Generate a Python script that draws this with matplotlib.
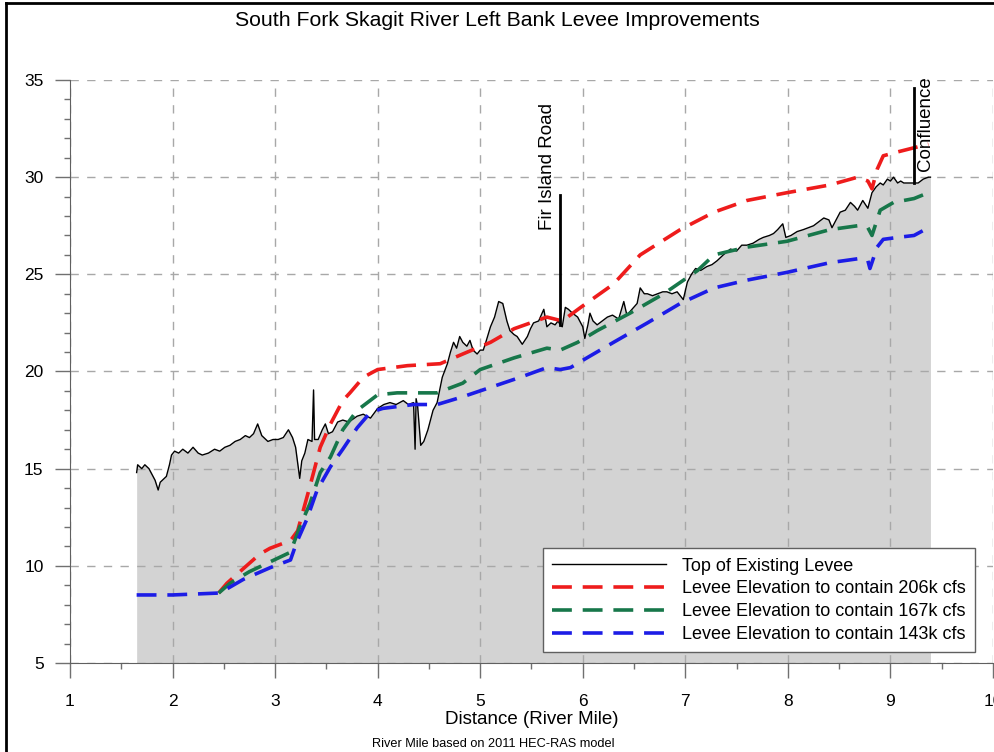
import matplotlib

matplotlib.use("Agg")

import matplotlib.pyplot as plt
from matplotlib.lines import Line2D
from matplotlib.ticker import MultipleLocator

plt.rcParams["font.family"] = ["Liberation Sans", "DejaVu Sans"]

# top of existing levee (river mile, elevation)
levee_x = [1.65, 1.66, 1.70, 1.73, 1.77, 1.80, 1.83, 1.86, 1.88, 1.90, 1.94, 1.97, 1.99,
           2.02, 2.06, 2.10, 2.15, 2.20, 2.25, 2.29, 2.35, 2.41, 2.46, 2.51, 2.56, 2.61,
           2.66, 2.71, 2.75, 2.79, 2.83, 2.87, 2.93, 2.98, 3.03, 3.08, 3.13, 3.17, 3.20,
           3.22, 3.24, 3.26, 3.29, 3.32, 3.36, 3.375, 3.385, 3.42, 3.46, 3.49, 3.52, 3.56,
           3.61, 3.66, 3.72, 3.80, 3.86, 3.93, 4.00, 4.06, 4.12, 4.18, 4.25, 4.30, 4.35,
           4.365, 4.375, 4.39, 4.42, 4.45, 4.49, 4.54, 4.58, 4.63, 4.68, 4.71, 4.74, 4.77,
           4.80, 4.83, 4.87, 4.90, 4.93, 4.97, 5.00, 5.03, 5.06, 5.10, 5.14, 5.18, 5.22,
           5.26, 5.29, 5.33, 5.36, 5.41, 5.46, 5.49, 5.52, 5.57, 5.62, 5.65, 5.69, 5.73,
           5.76, 5.78, 5.80, 5.83, 5.86, 5.90, 5.95, 6.00, 6.02, 6.05, 6.07, 6.10, 6.14,
           6.19, 6.24, 6.29, 6.35, 6.40, 6.43, 6.48, 6.53, 6.56, 6.60, 6.63, 6.68, 6.73,
           6.78, 6.82, 6.87, 6.92, 6.95, 6.98, 7.02, 7.06, 7.10, 7.15, 7.21, 7.26, 7.31,
           7.37, 7.44, 7.50, 7.55, 7.60, 7.66, 7.72, 7.76, 7.82, 7.86, 7.90, 7.95, 7.98,
           8.03, 8.09, 8.15, 8.20, 8.25, 8.30, 8.35, 8.40, 8.43, 8.47, 8.51, 8.56, 8.61,
           8.65, 8.68, 8.73, 8.78, 8.82, 8.86, 8.90, 8.93, 8.97, 9.00, 9.03, 9.07, 9.10,
           9.13, 9.18, 9.22, 9.27, 9.32, 9.37, 9.39]
levee_y = [14.8, 15.2, 15.0, 15.2, 15.0, 14.7, 14.4, 13.9, 14.3, 14.4, 14.6, 15.2, 15.7,
           15.9, 15.8, 16.0, 15.8, 16.1, 15.8, 15.7, 15.8, 16.0, 15.9, 16.1, 16.2, 16.4,
           16.5, 16.7, 16.6, 16.8, 17.3, 16.7, 16.4, 16.5, 16.5, 16.6, 17.0, 16.6, 16.1,
           15.3, 14.5, 15.4, 15.8, 16.5, 16.4, 19.05, 16.5, 16.5, 17.0, 17.3, 16.8, 16.9,
           17.4, 17.5, 17.4, 17.7, 17.8, 17.6, 18.1, 18.3, 18.4, 18.3, 18.5, 18.3, 18.4,
           16.0, 18.6, 18.2, 16.2, 16.4, 17.0, 18.0, 18.4, 19.7, 20.4, 21.0, 21.5, 21.2,
           21.8, 21.5, 21.3, 21.6, 21.1, 20.9, 21.1, 21.1, 21.6, 22.3, 22.8, 23.6, 23.5,
           22.6, 22.1, 21.9, 21.8, 21.4, 21.8, 22.2, 22.5, 22.6, 23.2, 22.3, 22.5, 22.4,
           22.6, 22.4, 22.3, 23.3, 23.2, 23.0, 22.8, 22.3, 21.7, 22.4, 23.0, 22.6, 22.4,
           22.6, 22.8, 22.9, 22.7, 23.6, 22.9, 23.2, 23.5, 24.3, 24.0, 24.0, 23.9, 24.0,
           24.1, 24.1, 24.0, 24.1, 23.9, 23.7, 24.6, 25.0, 25.3, 25.2, 25.4, 25.5, 25.7,
           26.0, 26.3, 26.2, 26.5, 26.5, 26.6, 26.8, 26.9, 27.0, 27.1, 27.3, 27.6, 26.9,
           27.0, 27.2, 27.3, 27.4, 27.5, 27.7, 27.9, 27.8, 27.4, 27.8, 28.2, 28.3, 28.7,
           28.5, 28.3, 28.8, 28.4, 29.2, 29.5, 29.7, 29.6, 29.9, 29.8, 30.0, 29.7, 29.8,
           29.7, 29.7, 29.7, 29.7, 29.9, 30.0, 30.0]

# levee elevation to contain 206k cfs
red_x = [2.45, 2.53, 2.70, 2.85, 2.95, 3.05, 3.15, 3.22, 3.34, 3.44, 3.54, 3.66, 3.73,
         3.86, 4.00, 4.29, 4.61, 4.83, 5.10, 5.33, 5.65, 5.80, 5.98, 6.30, 6.56, 6.95,
         7.28, 7.60, 7.99, 8.41, 8.68, 8.78, 8.82, 8.87, 8.93, 9.07, 9.37]
red_y = [8.6, 9.1, 9.9, 10.6, 10.9, 11.1, 11.3, 11.8, 14.1, 16.1, 17.3, 18.5, 18.9,
         19.7, 20.1, 20.3, 20.4, 20.9, 21.5, 22.2, 22.8, 22.6, 23.3, 24.5, 26.0, 27.3,
         28.2, 28.8, 29.2, 29.6, 30.0, 29.8, 29.4, 30.4, 31.1, 31.3, 31.7]

# levee elevation to contain 167k cfs
green_x = [2.45, 2.56, 2.75, 2.95, 3.15, 3.24, 3.34, 3.44, 3.54, 3.66, 3.80, 4.00, 4.19,
           4.58, 4.83, 5.00, 5.33, 5.65, 5.78, 5.95, 6.14, 6.46, 6.79, 7.12, 7.28, 7.60,
           7.99, 8.41, 8.68, 8.78, 8.82, 8.90, 9.03, 9.23, 9.37]
green_y = [8.6, 9.1, 9.7, 10.2, 10.7, 12.0, 13.2, 14.8, 15.6, 17.0, 18.0, 18.8, 18.9,
           18.9, 19.4, 20.1, 20.7, 21.2, 21.1, 21.5, 22.1, 23.0, 24.0, 25.2, 26.0, 26.4,
           26.7, 27.3, 27.5, 27.4, 27.0, 28.3, 28.7, 28.9, 29.2]

# levee elevation to contain 143k cfs
blue_x = [1.65, 2.00, 2.46, 2.69, 2.95, 3.15, 3.21, 3.31, 3.41, 3.54, 3.66, 3.80, 3.93,
          4.05, 4.35, 4.58, 4.83, 5.39, 5.65, 5.78, 5.88, 6.04, 6.30, 6.63, 6.95, 7.28,
          7.60, 7.99, 8.41, 8.68, 8.78, 8.80, 8.87, 8.93, 9.07, 9.23, 9.37]
blue_y = [8.5, 8.5, 8.6, 9.3, 9.9, 10.3, 11.2, 12.4, 13.9, 15.1, 16.0, 17.1, 17.9,
          18.1, 18.3, 18.3, 18.7, 19.7, 20.2, 20.1, 20.2, 20.7, 21.5, 22.5, 23.5, 24.3,
          24.7, 25.1, 25.6, 25.8, 25.7, 25.3, 26.4, 26.8, 26.9, 27.0, 27.4]

series_labels = ["Top of Existing Levee",
                 "Levee Elevation to contain 206k cfs",
                 "Levee Elevation to contain 167k cfs",
                 "Levee Elevation to contain 143k cfs"]

fir_island_x, fir_island_top = 5.78, 29.1
confluence_x, confluence_top = 9.23, 34.6

fig = plt.figure(figsize=(9.94, 7.52), dpi=100)
ax = fig.add_axes([0.0704, 0.1184, 0.9286, 0.7752])

ax.fill_between(levee_x, 5, levee_y, color="#d3d3d3", linewidth=0, zorder=1)
ax.plot(levee_x, levee_y, color="black", linewidth=1.0, zorder=3)

dash = (0, (5.5, 3))
ax.plot(red_x, red_y, color="#ee1c1c", linewidth=2.6, linestyle=dash, zorder=4)
ax.plot(green_x, green_y, color="#17774a", linewidth=2.6, linestyle=dash, zorder=4)
ax.plot(blue_x, blue_y, color="#1c1ce6", linewidth=2.6, linestyle=dash, zorder=4)

# location markers
ax.plot([fir_island_x, fir_island_x], [22.4, fir_island_top], color="black", linewidth=2, zorder=5)
ax.plot([confluence_x, confluence_x], [29.7, confluence_top], color="black", linewidth=2, zorder=5)
ax.text(5.66, 27.3, "Fir Island Road", rotation=90, ha="center", va="bottom", fontsize=13.5)
ax.text(9.345, 30.3, "Confluence", rotation=90, ha="center", va="bottom", fontsize=13.5)

ax.set_xlim(1, 10)
ax.set_ylim(5, 35)
ax.xaxis.set_major_locator(MultipleLocator(1))
ax.xaxis.set_minor_locator(MultipleLocator(0.5))
ax.yaxis.set_major_locator(MultipleLocator(5))
ax.yaxis.set_minor_locator(MultipleLocator(1))
ax.tick_params(which="major", direction="out", length=11, width=1, color="#707070",
               labelsize=12.5, pad=8)
ax.tick_params(axis="x", which="major", pad=11)
ax.tick_params(which="minor", direction="out", length=4.5, width=1, color="#707070")
ax.grid(True, which="major", color="#a8a8a8", linestyle=(0, (6, 6)), linewidth=1)
for side in ("top", "right"):
    ax.spines[side].set_visible(False)
for side in ("left", "bottom"):
    ax.spines[side].set_color("#606060")

ax.set_xlabel("Distance (River Mile)", fontsize=13.5, labelpad=2)
fig.text(0.4965, 0.006, "River Mile based on 2011 HEC-RAS model", ha="center", fontsize=9.2)
fig.text(0.5, 0.973, "South Fork Skagit River Left Bank Levee Improvements", ha="center",
         va="center", fontsize=15.3)

handles = [Line2D([], [], color="black", linewidth=1.0),
           Line2D([], [], color="#ee1c1c", linewidth=2.6, linestyle=dash),
           Line2D([], [], color="#17774a", linewidth=2.6, linestyle=dash),
           Line2D([], [], color="#1c1ce6", linewidth=2.6, linestyle=dash)]
leg = ax.legend(handles, series_labels, loc="lower right", bbox_to_anchor=(0.9805, 0.019),
                fontsize=13, handlelength=6.3, handletextpad=0.9, labelspacing=0.32,
                fancybox=False, framealpha=1, edgecolor="#606060", borderpad=0.5,
                borderaxespad=0)
leg.get_frame().set_linewidth(1.0)

# figure frame
fig.add_artist(Line2D([0.006, 0.006], [0, 0.996], color="black", linewidth=2,
                      transform=fig.transFigure))
fig.add_artist(Line2D([0.006, 0.999], [0.996, 0.996], color="black", linewidth=2,
                      transform=fig.transFigure))

fig.savefig("out.png", dpi=100)
